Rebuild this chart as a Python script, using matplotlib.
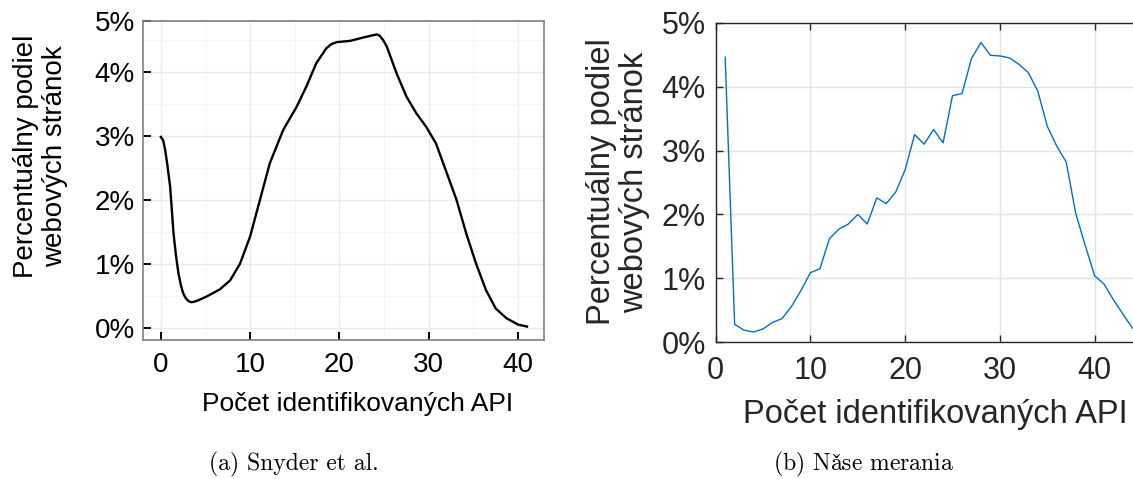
import numpy as np
import matplotlib
matplotlib.use("Agg")
import matplotlib.pyplot as plt

plt.rcParams['font.family'] = ['Liberation Sans', 'DejaVu Sans']
plt.rcParams['mathtext.fontset'] = 'cm'

# (a) Snyder et al. - smooth density curve
snyder_x = [0, 0.25, 0.48, 0.75, 1.04, 1.42, 1.7, 1.97, 2.25, 2.5, 2.75, 3.0, 3.25, 3.46, 3.8,
            4.2, 5.14, 6.6, 7.75, 8.86, 9.98, 11.1, 12.2, 13.7, 15.2, 16.3, 17.4, 18.5,
            19.1, 19.7, 21.2, 22.6, 23.8, 24.2, 24.5, 24.9, 25.3, 26.4, 27.5, 28.6, 29.7,
            30.8, 31.9, 33.1, 34.2, 35.3, 36.4, 37.5, 38.7, 40.0, 41.0]
snyder_y = [2.98, 2.93, 2.78, 2.52, 2.2, 1.47, 1.12, 0.85, 0.66, 0.54, 0.47, 0.43, 0.405, 0.40, 0.41,
            0.43, 0.49, 0.6, 0.74, 1.0, 1.42, 2.0, 2.57, 3.09, 3.45, 3.77, 4.13, 4.36,
            4.43, 4.46, 4.48, 4.53, 4.57, 4.58, 4.56, 4.49, 4.39, 3.97, 3.61, 3.35, 3.14,
            2.88, 2.46, 2.0, 1.47, 1.0, 0.59, 0.30, 0.15, 0.05, 0.02]

# (b) Nase merania - one value per API count
nase_x = list(range(1, 45))
nase_y = [4.46, 0.28, 0.19, 0.16, 0.21, 0.31, 0.37, 0.56, 0.81, 1.09,
          1.15, 1.62, 1.77, 1.85, 2.0, 1.85, 2.26, 2.17, 2.35, 2.70,
          3.25, 3.10, 3.33, 3.12, 3.86, 3.89, 4.44, 4.69, 4.49, 4.48,
          4.45, 4.35, 4.22, 3.93, 3.38, 3.07, 2.82, 2.02, 1.52, 1.04,
          0.91, 0.66, 0.44, 0.22]

ylabel = "Percentuálny podiel\nwebových stránok"
xlabel = "Počet identifikovaných API"
pct_labels = ["0%", "1%", "2%", "3%", "4%", "5%"]

W, H = 1133, 479
fig = plt.figure(figsize=(W / 100, H / 100), dpi=100)

def px(l, t, r, b):
    return [l / W, 1 - b / H, (r - l) / W, (b - t) / H]

# ---- left panel (ggplot look) ----
ax1 = fig.add_axes(px(143, 21, 544, 340))
ax1.plot(snyder_x, snyder_y, color='black', lw=1.7, solid_joinstyle='round')
ax1.set_xlim(-2.0, 42.9)
ax1.set_ylim(-0.19, 4.79)
ax1.set_xticks([0, 10, 20, 30, 40])
ax1.set_xticks([5, 15, 25, 35], minor=True)
ax1.set_yticks([0, 1, 2, 3, 4, 4.79])
ax1.set_yticks([0.5, 1.5, 2.5, 3.5, 4.5], minor=True)
ax1.set_yticklabels(pct_labels)
ax1.grid(which='major', color='#ebebeb', lw=1.0)
ax1.grid(which='minor', color='#f4f4f4', lw=0.6)
ax1.set_axisbelow(True)
for s in ax1.spines.values():
    s.set_color('#7f7f7f')
    s.set_linewidth(1.2)
ax1.tick_params(which='major', direction='in', length=6, width=1.4, color='black',
                labelsize=20)
ax1.tick_params(axis='x', pad=8.5)
ax1.tick_params(axis='y', pad=6)
ax1.tick_params(which='minor', length=0)
fig.text(358 / W, 1 - 411 / H, xlabel, fontsize=19, ha='center', va='baseline')
fig.text(41 / W, 1 - 156 / H, ylabel, fontsize=20, rotation=90, ha='center', va='center',
         multialignment='center', linespacing=1.15)

# ---- right panel (MATLAB look) ----
ax2 = fig.add_axes(px(715.7, 22.7, 1142, 342.3))
ax2.plot(nase_x, nase_y, color='#0072BD', lw=1.0)
ax2.set_xlim(0, 45)
ax2.set_ylim(0, 5)
ax2.set_xticks([0, 10, 20, 30, 40])
ax2.set_yticks([0, 1, 2, 3, 4, 5])
ax2.set_yticklabels(pct_labels)
ax2.grid(color='#e3e3e3', lw=1.0)
ax2.set_axisbelow(True)
for s in ax2.spines.values():
    s.set_color('#262626')
    s.set_linewidth(1.0)
ax2.tick_params(direction='in', length=5, width=1.0, color='#262626', labelcolor='#262626',
                labelsize=22, top=True, right=True)
ax2.tick_params(axis='x', pad=10)
ax2.tick_params(axis='y', pad=7)
fig.text(935 / W, 1 - 423 / H, xlabel, fontsize=23.5, color='#262626', ha='center',
         va='baseline')
fig.text(618 / W, 1 - 182 / H, ylabel, fontsize=23.5, color='#262626', rotation=90,
         ha='center', va='center', multialignment='center', linespacing=1.1)

# captions (Computer Modern, like the LaTeX document)
cap_font = ['cmr10', 'DejaVu Serif']
fig.text(294 / W, 1 - 464 / H, "(a) Snyder et al.", family=cap_font, fontsize=17,
         ha='center', va='center')
fig.text(864 / W, 1 - 464 / H, r"(b) Na$\mathrm{\check{s}}$e merania", family=cap_font,
         fontsize=17, ha='center', va='center')

fig.savefig("out.png", dpi=100)
